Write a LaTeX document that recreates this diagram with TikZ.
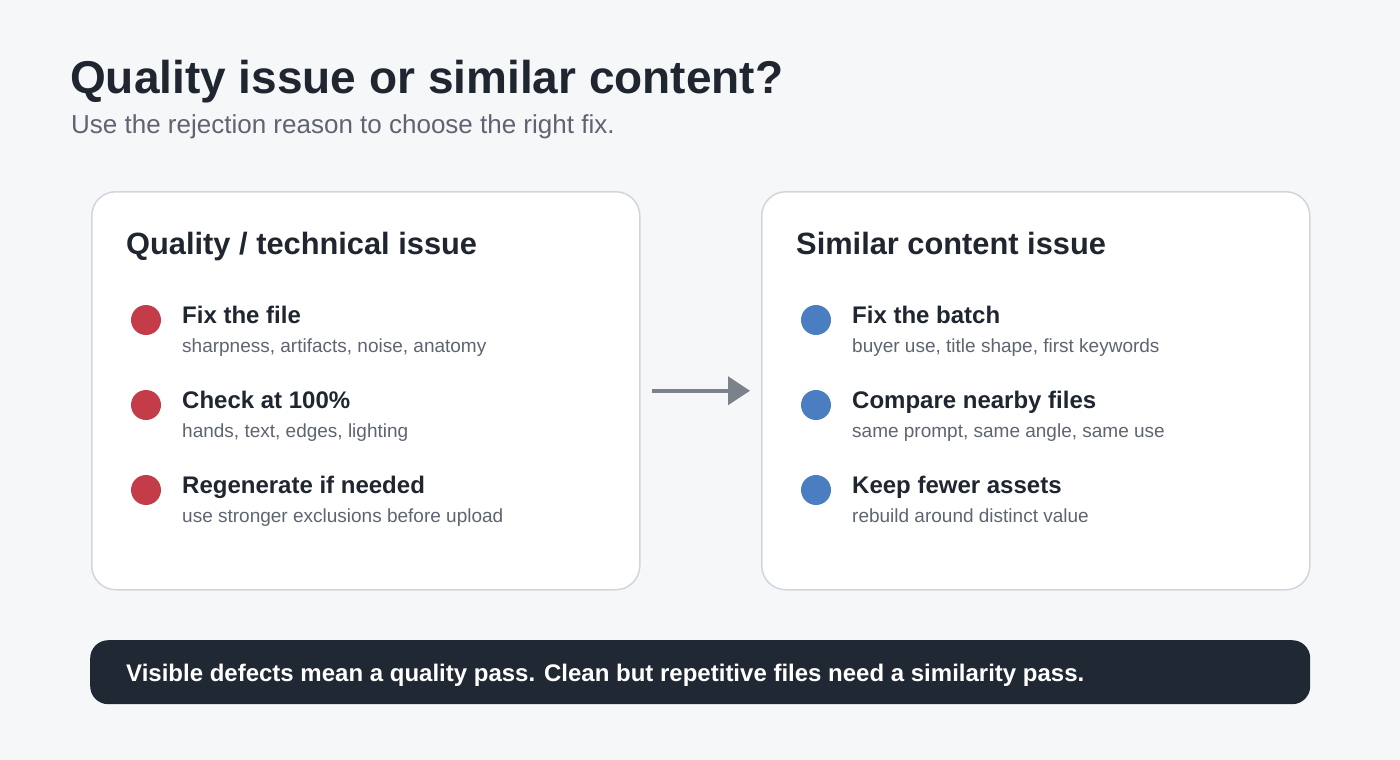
\documentclass[tikz,border=0pt]{standalone}
\usepackage{fontspec}
\setmainfont{Liberation Sans}
\usetikzlibrary{arrows.meta}
\definecolor{bg}{HTML}{F6F7F9}
\definecolor{ink}{HTML}{1F2630}
\definecolor{muted}{HTML}{5E6570}
\definecolor{cardline}{HTML}{D1D6DC}
\definecolor{redc}{HTML}{C43C47}
\definecolor{bluec}{HTML}{4A7EC0}
\definecolor{arrowc}{HTML}{7A828B}
\definecolor{barc}{HTML}{202833}
\tikzset{
  card/.style={draw=cardline, line width=1.5pt, fill=white, rounded corners=24pt, anchor=north west, minimum width=548pt, minimum height=398pt, inner sep=0pt},
  cardtitle/.style={anchor=base west, inner sep=0pt, text=ink, font=\fontsize{30.8}{34}\selectfont\bfseries},
  itemtitle/.style={anchor=base west, inner sep=0pt, text=ink, font=\fontsize{24}{28}\selectfont\bfseries},
  itemsub/.style={anchor=base west, inner sep=0pt, text=muted, font=\fontsize{19}{22}\selectfont},
  dotred/.style={circle, fill=redc, minimum size=30pt, inner sep=0pt},
  dotblue/.style={circle, fill=bluec, minimum size=30pt, inner sep=0pt},
}
\begin{document}
\begin{tikzpicture}[x=1pt, y=-1pt]
\useasboundingbox (0,0) rectangle (1400,760);
\fill[bg] (0,0) rectangle (1400,760);
\node[anchor=base west, inner sep=0pt, text=ink, font=\fontsize{46}{50}\selectfont\bfseries] (title) at (70,93) {Quality issue or similar content?};
\node[anchor=base west, inner sep=0pt, text=muted, font=\fontsize{26}{30}\selectfont] (subtitle) at (71,133) {Use the rejection reason to choose the right fix.};
% cards
\node[card] (card1) at (91,191) {};
\node[card] (card2) at (761,191) {};
\node[cardtitle] (t1) at (126,254) {Quality / technical issue};
\node[cardtitle] (t2) at (796,254) {Similar content issue};
% left items
\node[dotred] (r1) at (146,320) {};
\node[itemtitle] (r1t) at (182,323) {Fix the file};
\node[itemsub] (r1s) at (182,352) {sharpness, artifacts, noise, anatomy};
\node[dotred] (r2) at (146,405) {};
\node[itemtitle] (r2t) at (182,408) {Check at 100\%};
\node[itemsub] (r2s) at (182,437) {hands, text, edges, lighting};
\node[dotred] (r3) at (146,490) {};
\node[itemtitle] (r3t) at (182,493) {Regenerate if needed};
\node[itemsub] (r3s) at (182,522) {use stronger exclusions before upload};
% right items
\node[dotblue] (b1) at (816,320) {};
\node[itemtitle] (b1t) at (852,323) {Fix the batch};
\node[itemsub] (b1s) at (852,352) {buyer use, title shape, first keywords};
\node[dotblue] (b2) at (816,405) {};
\node[itemtitle] (b2t) at (852,408) {Compare nearby files};
\node[itemsub] (b2s) at (852,437) {same prompt, same angle, same use};
\node[dotblue] (b3) at (816,490) {};
\node[itemtitle] (b3t) at (852,493) {Keep fewer assets};
\node[itemsub] (b3s) at (852,522) {rebuild around distinct value};
% arrow
\draw[arrowc, line width=4pt, shorten <=11pt, shorten >=11pt, -{Triangle[length=22pt, width=28pt]}] (card1.east) -- (card2.west);
% bottom bar
\node[fill=barc, rounded corners=18pt, anchor=north west, minimum width=1220pt, minimum height=64pt, inner sep=0pt] (bar) at (90,640) {};
\node[anchor=base west, inner sep=0pt, text=white, font=\fontsize{24}{28}\selectfont\bfseries] (bartext) at (126,681) {Visible defects mean a quality pass. Clean but repetitive files need a similarity pass.};
\end{tikzpicture}
\end{document}
